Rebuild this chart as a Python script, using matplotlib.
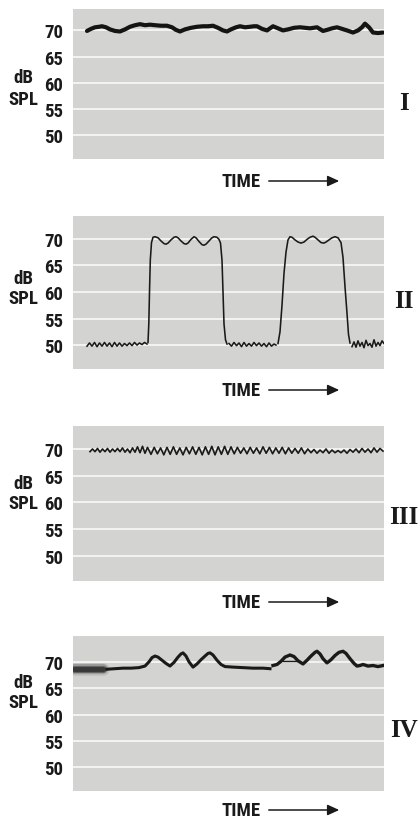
import os
import matplotlib
matplotlib.use("Agg")
import matplotlib.pyplot as plt
from matplotlib import font_manager as fm
from matplotlib.font_manager import FontProperties

# ---------------- data (time in arbitrary units, level in dB SPL) ----------------
yticks = [50, 55, 60, 65, 70]
panel_labels = ["I", "II", "III", "IV"]

# Panel I: steady level near 70 dB
t1 = [14, 18, 22, 26, 29, 33, 37, 42, 47, 52, 57, 62, 67, 72, 77, 82, 88, 94, 99, 103,
      107, 112, 118, 124, 130, 135, 140, 145, 150, 154, 158, 163, 167, 172, 177, 181, 184, 189, 194, 197,
      200, 205, 210, 215, 221, 227, 232, 237, 244, 250, 254, 259, 264, 269, 274, 280, 285, 289, 292, 296,
      300, 305, 310]
db1 = [69.9, 70.3, 70.6, 70.7, 70.8, 70.6, 70.2, 69.9, 69.8, 70.2, 70.7, 71.0, 71.2, 71.0, 71.1, 71.0, 70.9, 70.9, 70.6, 70.1,
       69.8, 70.2, 70.5, 70.7, 70.8, 70.8, 70.9, 70.5, 70.0, 69.8, 70.2, 70.6, 70.8, 70.6, 70.7, 70.8, 70.8, 70.3, 70.0, 70.4,
       70.8, 70.4, 70.0, 70.2, 70.5, 70.6, 70.5, 70.4, 70.6, 69.9, 70.1, 70.4, 70.6, 70.3, 70.0, 69.6, 70.0, 70.6, 71.3, 70.6,
       69.6, 69.5, 69.6]

# Panel II: on/off bursts between 50 and 70 dB
t2_base1 = [14, 16.5, 19, 21.5, 24, 26.5, 29, 31.5, 34, 36.5, 39, 41.5, 44, 46.5, 49, 51.5, 54, 56.5, 59, 61.5, 64, 66.5, 69, 71.5, 74]
db2_base1 = [49.8, 50.4, 49.8, 50.5, 49.7, 50.4, 49.8, 50.5, 49.8, 50.4, 49.7, 50.5, 49.8, 50.4, 49.8, 50.3, 49.9, 50.4, 49.9, 50.5, 50.0, 50.4, 50.1, 50.5, 50.2]
t2_on1 = [75, 75.8, 76.5, 77.3, 78.5, 80, 82, 85, 88, 91, 93, 95, 98, 101, 103, 105, 108, 111, 113, 115, 118, 121, 123, 126,
          129, 131, 133, 136, 139, 141, 144, 146, 147.5, 149, 150, 151, 152.5, 154]
db2_on1 = [50.5, 54, 60, 66, 69.3, 70.3, 70.4, 70.2, 69.6, 69.1, 69.0, 69.2, 69.8, 70.3, 70.4, 70.2, 69.6, 69.1, 69.0, 69.2,
           69.9, 70.4, 70.2, 69.5, 68.9, 68.8, 69.0, 69.6, 70.2, 70.4, 70.3, 69.9, 69.2, 66, 60, 54, 51, 50.2]
t2_base2 = [156, 158.5, 161, 163.5, 166, 168.5, 171, 173.5, 176, 178.5, 181, 183.5, 186, 188.5, 191, 193.5, 196, 198.5, 201, 203]
db2_base2 = [50.3, 49.8, 50.5, 49.9, 50.4, 49.7, 50.5, 49.8, 50.3, 49.8, 50.5, 49.9, 50.4, 49.8, 50.3, 49.7, 50.4, 49.8, 50.2, 50.0]
t2_on2 = [205, 207, 209, 211, 213, 215, 217, 219, 222, 225, 228, 231, 234, 237, 240, 242, 245, 248, 251, 253, 256, 259, 262,
          265, 268, 270, 272, 274, 275.5, 277]
db2_on2 = [50.3, 52.5, 57.5, 63.5, 67.5, 69.8, 70.4, 70.3, 69.8, 69.4, 69.2, 69.4, 69.9, 70.3, 70.5, 70.3, 69.8, 69.3, 69.2,
           69.4, 69.8, 70.2, 70.4, 70.2, 69.3, 66.5, 61, 56, 52, 50.4]
t2_base3 = [279, 281, 283, 285, 287, 289, 291, 293, 295, 297, 299, 301, 303, 305, 307, 309, 311]
db2_base3 = [49.7, 50.6, 49.6, 50.8, 49.8, 50.5, 49.5, 50.9, 49.9, 50.3, 49.6, 51.0, 49.8, 50.5, 49.9, 50.8, 50.3]

# Panel III: fast sawtooth fluctuation near 70 dB
t3 = [17, 19.5, 22, 24.5, 27, 29.5, 32, 34.5, 37, 39.5, 42, 44.5, 47, 49.5, 52, 54.5, 57, 59.5, 62, 64.5, 67, 69.5, 72, 74.5,
      78, 81.2, 84.4, 87.6, 90.8, 94, 97.2, 100.4, 103.6, 106.8, 110, 113.2, 116.4, 119.6, 122.8, 126, 129.2, 132.4, 135.6, 138.8,
      142, 145.2, 148.4, 151.6, 154.8, 158, 161.2, 164.4, 167.6, 170.8, 174, 177.2, 180.4, 183.6, 186.8, 190, 193.2, 196.4, 199.6,
      202.8, 206, 209.2, 212.4, 215.6, 218.8, 222, 225.2, 228.4, 231.6, 234.8,
      238, 241, 244, 247, 250, 253, 256, 259, 262, 265, 268, 271, 274, 277, 280, 283, 286, 289, 292, 295, 298, 301, 304, 307, 310]
db3 = [69.5, 70.0, 69.5, 70.1, 69.4, 70.0, 69.5, 70.1, 69.4, 70.0, 69.5, 70.1, 69.5, 70.2, 69.4, 70.0, 69.3, 70.2, 69.4, 70.4, 69.3, 70.5, 69.2, 70.3,
       69.0, 70.3, 69.1, 70.2, 68.9, 70.3, 69.0, 70.4, 69.0, 70.2, 68.9, 70.3, 69.1, 70.4, 69.0, 70.3, 68.9, 70.4, 69.0, 70.5,
       68.9, 70.4, 69.0, 70.5, 69.0, 70.4, 69.1, 70.3, 69.2, 70.2, 69.1, 70.3, 69.2, 70.2, 69.1, 70.4, 69.2, 70.3, 69.1,
       70.2, 69.2, 70.3, 69.1, 70.2, 69.2, 70.1, 69.2, 70.2, 69.1, 70.0,
       69.3, 69.9, 69.2, 69.8, 69.3, 70.0, 69.2, 69.8, 69.3, 69.7, 69.3, 69.8, 69.2, 69.9, 69.4, 70.0, 69.3, 70.1, 69.4, 70.0, 69.3, 70.2, 69.4, 70.1, 69.6]

# Panel IV: smear at start, then two groups of three swells
t4_smear = [1, 30]
db4_smear = [68.7, 68.7]
t4_a = [34, 42, 50, 58, 66, 72, 76, 79, 82, 85, 89, 93, 97, 101, 105, 108, 110, 113, 116, 120, 124, 128, 132, 135, 137, 140,
        144, 148, 152, 160, 170, 180, 190, 197]
db4_a = [68.6, 68.7, 68.8, 68.8, 68.9, 69.2, 70.0, 70.8, 71.1, 70.9, 70.3, 69.7, 69.2, 69.9, 70.9, 71.5, 71.7, 71.1, 70.0, 69.0,
         69.6, 70.4, 71.1, 71.6, 71.7, 71.3, 70.3, 69.5, 69.1, 69.0, 68.9, 68.8, 68.8, 68.7]
t4_b = [200, 204, 208, 212, 217, 221, 225, 230, 234, 238, 242, 244, 247, 250, 254, 258, 262, 266, 270, 273, 277, 281, 284,
        287, 290, 295, 300, 305, 310]
db4_b = [69.3, 69.5, 70.1, 70.9, 71.3, 71.0, 70.2, 69.6, 70.3, 71.1, 71.8, 72.0, 71.5, 70.6, 69.8, 70.4, 71.2, 71.8, 72.0, 71.6,
         70.6, 69.7, 69.2, 69.3, 69.5, 69.2, 69.3, 69.1, 69.3]
t4_bar = [210, 226]
db4_bar = [70.1, 70.1]

# ---------------- fonts ----------------
def pick_condensed_bold():
    files = [f.fname for f in fm.fontManager.ttflist]
    prefs = ['LiberationSansNarrow-Bold.', 'NotoSans-CondensedBold.', 'RobotoCondensed-Bold.',
             'DejaVuSansCondensed-Bold.', 'OpenSans-CondensedBold.', 'OpenSans_Condensed-Bold.']
    for p in prefs:
        for f in files:
            if os.path.basename(f).startswith(p):
                return FontProperties(fname=f)
    for f in files:
        b = os.path.basename(f).lower()
        if (('condensed' in b) or ('narrow' in b)) and 'bold' in b and 'extra' not in b \
                and 'semi' not in b and 'italic' not in b and 'oblique' not in b:
            return FontProperties(fname=f)
    return FontProperties(family=['Roboto', 'DejaVu Sans'], weight='bold')

BASEFP = pick_condensed_bold()

def sans(size):
    p = BASEFP.copy()
    p.set_size(size)
    return p

SERIF = ['Liberation Serif', 'DejaVu Serif']
INK = '#1a1a1a'
PAPER = '#d3d3d1'
GRID = '#f3f3f1'
FS = 13.5

# ---------------- figure ----------------
W, H = 420, 820
fig = plt.figure(figsize=(W / 100, H / 100), dpi=100)
fig.patch.set_facecolor('white')

def fx(px):
    return px / W

def fy(py):
    return 1 - py / H

# (top px, bottom px, ylim, roman y, dB y, SPL y, TIME y)
panels = [
    (10, 160, (45.4, 74.1), 104, 78, 100, 182),
    (217, 370, (45.5, 74.3), 301, 279, 299, 391),
    (427, 582, (45.3, 74.3), 518, 484, 504, 603),
    (637, 792, (45.5, 74.9), 731, 683, 703, 811),
]

axes = []
for (top, bot, ylim, ry, dby, sply, timey), lab in zip(panels, panel_labels):
    ax = fig.add_axes([fx(73), fy(bot), fx(384) - fx(73), (bot - top) / H])
    ax.set_facecolor(PAPER)
    ax.set_xlim(0, 311)
    ax.set_ylim(*ylim)
    for s in ax.spines.values():
        s.set_visible(False)
    ax.set_xticks([])
    ax.set_yticks(yticks)
    ax.set_yticklabels([str(v) for v in yticks], fontproperties=sans(FS), color=INK)
    ax.tick_params(axis='y', length=0, pad=7)
    for v in yticks:
        ax.axhline(v, color=GRID, lw=1.4, zorder=1)
    fig.text(fx(23), fy(dby), 'dB', fontproperties=sans(FS), color=INK, ha='center', va='center')
    fig.text(fx(23), fy(sply), 'SPL', fontproperties=sans(FS), color=INK, ha='center', va='center')
    fig.text(fx(404), fy(ry), lab, family=SERIF, weight='bold', fontsize=18, color=INK, ha='center', va='center')
    fig.text(fx(241), fy(timey), 'TIME', fontproperties=sans(FS), color=INK, ha='center', va='center')
    fig.add_artist(matplotlib.patches.FancyArrowPatch(
        (fx(266), fy(timey)), (fx(342), fy(timey)), transform=fig.transFigure,
        arrowstyle='-|>,head_length=7,head_width=3.2', lw=1.1, color=INK, mutation_scale=1))
    axes.append(ax)

axes[0].plot(t1, db1, color='#141414', lw=3.0, solid_capstyle='round', solid_joinstyle='round', zorder=3)

for tt, dd in [(t2_base1, db2_base1), (t2_on1, db2_on1), (t2_base2, db2_base2), (t2_on2, db2_on2), (t2_base3, db2_base3)]:
    axes[1].plot(tt, dd, color=INK, lw=1.15, solid_joinstyle='round', zorder=3)

axes[2].plot(t3, db3, color=INK, lw=1.2, zorder=3)

# soft, blurred smear: stacked strokes of decreasing width
for lw_, a_ in [(9, 0.12), (7, 0.25), (5, 0.45), (3.5, 0.7)]:
    axes[3].plot(t4_smear, db4_smear, color='#262626', lw=lw_, alpha=a_, solid_capstyle='round', zorder=3)
axes[3].plot(t4_a, db4_a, color=INK, lw=2.2, solid_joinstyle='round', zorder=3)
axes[3].plot(t4_b, db4_b, color=INK, lw=2.4, solid_joinstyle='round', zorder=3)
axes[3].plot(t4_bar, db4_bar, color=INK, lw=1.0, zorder=3)

fig.savefig('out.png', dpi=100, facecolor='white')
